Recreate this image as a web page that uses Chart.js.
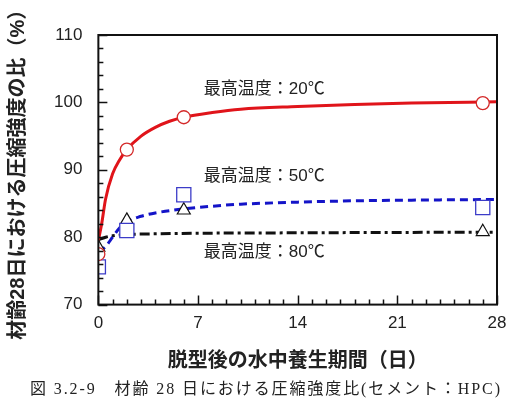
<!DOCTYPE html>
<html>
<head>
<meta charset="utf-8">
<script src="https://cdn.jsdelivr.net/npm/chart.js@4.4.1/dist/chart.umd.min.js"></script>
<style>
  html, body { margin: 0; padding: 0; background: #fff; }
  #wrap { width: 511px; height: 410px; }
</style>
</head>
<body>
<div id="wrap"><canvas id="chart" width="511" height="410"></canvas></div>
<script>
// 測定値（脱型後の水中養生期間 → 圧縮強度比 %）
const days = [0, 2, 6, 27];
const max20 = [77.5, 93.0, 97.8, 99.9];
const max50 = [75.6, 81.0, 86.3, 84.4];
const max80 = [78.5, 82.5, 84.0, 80.8];

// 近似曲線
const fitDays20 = [0, 0.25, 0.5, 1, 1.5, 2, 3, 4, 5, 6, 8, 10, 14, 18, 22, 28];
const fit20 = [79.5, 82.2, 85.6, 89.4, 91.5, 93.0, 95.0, 96.3, 97.2, 97.8, 98.5, 99.0, 99.4, 99.7, 99.9, 100.1];
const fitDays50 = [0, 0.5, 1, 1.5, 2, 3, 4, 6, 8, 10, 14, 18, 22, 28];
const fit50 = [77.8, 78.6, 80.0, 81.4, 82.3, 83.1, 83.6, 84.2, 84.6, 84.9, 85.2, 85.4, 85.5, 85.6];
const fitDays80 = [0, 0.5, 1, 2, 4, 8, 14, 20, 28];
const fit80 = [79.6, 80.0, 80.2, 80.4, 80.5, 80.6, 80.65, 80.7, 80.75];

const xTicks = [0, 7, 14, 21, 28];
const yTicks = [70, 80, 90, 100, 110];

const noteTexts = ['最高温度：20℃', '最高温度：50℃', '最高温度：80℃'];
const noteAt = [[7.4, 102.0], [7.4, 89.1], [7.4, 77.7]];

const caption = '図 3.2-9　材齢 28 日における圧縮強度比(セメント：HPC)';

const toXY = (xs, ys) => xs.map((x, i) => ({ x: x, y: ys[i] }));

const JP = '"Liberation Sans", "Noto Sans CJK JP", sans-serif';

// 枠・内向き目盛り・注記・キャプション
const decor = {
    id: 'decor',
    afterDatasetsDraw(chart) {
        const { ctx, chartArea: a, scales } = chart;
        const xs = scales.x, ys = scales.y;
        ctx.save();
        ctx.strokeStyle = '#111';
        ctx.lineWidth = 1.5;
        ctx.beginPath();
        for (let d = 0; d <= 28; d++) {
            const px = Math.round(xs.getPixelForValue(d)) + 0.5;
            const len = d % 7 === 0 ? 9 : 5;
            ctx.moveTo(px, a.bottom);
            ctx.lineTo(px, a.bottom - len);
        }
        for (let v = 70; v <= 110; v += 2) {
            const py = Math.round(ys.getPixelForValue(v)) + 0.5;
            const len = v % 10 === 0 ? 9 : 5;
            ctx.moveTo(a.left, py);
            ctx.lineTo(a.left + len, py);
        }
        ctx.stroke();
        ctx.lineWidth = 2;
        ctx.strokeRect(a.left, a.top, a.right - a.left, a.bottom - a.top);

        ctx.fillStyle = '#222';
        ctx.font = '17px ' + JP;
        ctx.textBaseline = 'middle';
        ctx.textAlign = 'left';
        noteTexts.forEach((t, i) => {
            ctx.fillText(t, xs.getPixelForValue(noteAt[i][0]), ys.getPixelForValue(noteAt[i][1]));
        });
        ctx.restore();
    },
    afterDraw(chart) {
        const ctx = chart.ctx;
        ctx.save();
        ctx.fillStyle = '#222';
        ctx.font = '16px "Liberation Serif", "Noto Sans CJK JP", serif';
        ctx.textBaseline = 'middle';
        ctx.textAlign = 'left';
        const w = ctx.measureText(caption).width;
        const n = [...caption].length;
        const target = 470;
        const sp = Math.max(0, (target - w) / (n - 1));
        ctx.letterSpacing = sp + 'px';
        ctx.fillText(caption, 30, 390);
        ctx.restore();
    }
};

const ctx = document.getElementById('chart').getContext('2d');
const chart = new Chart(ctx, {
    type: 'scatter',
    data: {
        datasets: [
            {
                label: '20℃',
                data: toXY(days, max20),
                pointStyle: 'circle',
                pointRadius: 6.5,
                borderColor: '#d42a2a',
                backgroundColor: '#fff',
                borderWidth: 1.3
            },
            {
                label: '50℃',
                data: toXY(days, max50),
                pointStyle: 'rect',
                pointRadius: 10,
                borderColor: '#3c3cc8',
                backgroundColor: '#fff',
                borderWidth: 1.3
            },
            {
                label: '80℃',
                data: toXY(days, max80),
                pointStyle: 'triangle',
                pointRadius: 7.5,
                borderColor: '#111',
                backgroundColor: '#fff',
                borderWidth: 1.2
            },
            {
                label: 'fit20',
                data: toXY(fitDays20, fit20),
                showLine: true,
                pointRadius: 0,
                borderColor: '#e0141a',
                borderWidth: 3,
                cubicInterpolationMode: 'monotone'
            },
            {
                label: 'fit50',
                data: toXY(fitDays50, fit50),
                showLine: true,
                pointRadius: 0,
                borderColor: '#1414c8',
                borderWidth: 3,
                borderDash: [8, 5],
                cubicInterpolationMode: 'monotone'
            },
            {
                label: 'fit80',
                data: toXY(fitDays80, fit80),
                showLine: true,
                pointRadius: 0,
                borderColor: '#111',
                borderWidth: 3,
                borderDash: [10, 4, 3, 4],
                cubicInterpolationMode: 'monotone'
            }
        ]
    },
    options: {
        responsive: false,
        animation: false,
        layout: { padding: { top: 35, right: 14, bottom: 37, left: 0 } },
        plugins: {
            legend: { display: false },
            tooltip: { enabled: false }
        },
        scales: {
            x: {
                type: 'linear',
                min: 0,
                max: 28,
                afterBuildTicks: s => { s.ticks = xTicks.map(v => ({ value: v })); },
                afterFit: s => { s.paddingRight = 0; s.paddingLeft = 0; },
                grid: { display: false, drawTicks: false },
                border: { display: false },
                ticks: { color: '#222', padding: 9, font: { family: JP, size: 17 } },
                title: {
                    display: true,
                    text: '脱型後の水中養生期間（日）',
                    color: '#222',
                    padding: { top: 6, bottom: 0 },
                    font: { family: JP, size: 20, weight: 'bold' }
                }
            },
            y: {
                min: 70,
                max: 110,
                afterBuildTicks: s => { s.ticks = yTicks.map(v => ({ value: v })); },
                grid: { display: false, drawTicks: false },
                border: { display: false },
                ticks: { color: '#222', padding: 16, font: { family: JP, size: 17 } },
                title: {
                    display: true,
                    text: '材齢28日における圧縮強度の比（%）',
                    color: '#222',
                    padding: { top: 6, bottom: 8 },
                    font: { family: JP, size: 20, weight: 'bold' }
                }
            }
        }
    },
    plugins: [decor]
});
</script>
</body>
</html>
